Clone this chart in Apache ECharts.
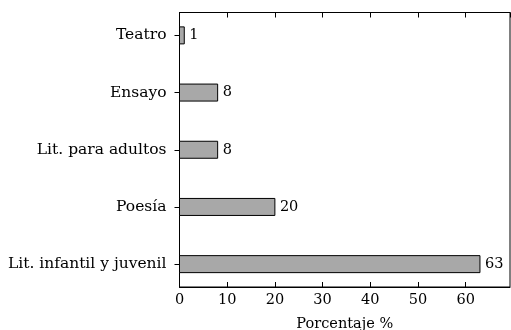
<!DOCTYPE html>
<html>
<head>
<meta charset="utf-8">
<script src="https://cdn.jsdelivr.net/npm/echarts@6/dist/echarts.min.js"></script>
<style>
  html, body { margin: 0; padding: 0; background: #fff; }
  #chart { width: 511px; height: 330px; }
</style>
</head>
<body>
<div id="chart"></div>
<script>
// categories from bottom to top
var categories = ["Lit. infantil y juvenil", "Poesía", "Lit. para adultos", "Ensayo", "Teatro"];
var values = [63, 20, 8, 8, 1];
var xTicks = [0, 10, 20, 30, 40, 50, 60];
var catPos = [0, 1, 2, 3, 4];

var font = "'DejaVu Serif', 'Liberation Serif', serif";
var barH = 17;

var chart = echarts.init(document.getElementById("chart"));

var data = values.map(function (v, i) {
  return [v, i];
});

chart.setOption({
  animation: false,
  grid: {
    left: 179.5,
    right: 1,
    top: 12.5,
    bottom: 43,
    show: true,
    borderColor: "#000",
    borderWidth: 1,
    containLabel: false,
    outerBoundsMode: "none",
  },
  xAxis: [
    {
      type: "value",
      min: 0,
      max: 69.3,
      interval: 10,
      name: "Porcentaje %",
      nameLocation: "middle",
      nameGap: 30,
      nameTextStyle: { color: "#000", fontSize: 14.5, fontFamily: font },
      axisLine: { show: true, onZero: false, lineStyle: { color: "#000", width: 1 } },
      axisTick: { show: true, inside: true, length: 5, lineStyle: { color: "#000" } },
      axisLabel: {
        color: "#000",
        fontSize: 14.5,
        fontFamily: font,
        margin: 6,
        showMaxLabel: false,
        formatter: function (v) {
          return xTicks.indexOf(v) >= 0 ? String(v) : "";
        },
      },
      splitLine: { show: false },
    },
    {
      type: "value",
      position: "top",
      min: 0,
      max: 69.3,
      interval: 10,
      axisLine: { show: true, onZero: false, lineStyle: { color: "#000", width: 1 } },
      axisTick: { show: true, inside: true, length: 5, lineStyle: { color: "#000" } },
      axisLabel: { show: false },
      splitLine: { show: false },
    },
  ],
  yAxis: {
    type: "value",
    min: -0.4,
    max: 4.4,
    axisLine: { show: true, onZero: false, lineStyle: { color: "#000", width: 1 } },
    axisTick: {
      show: true,
      inside: false,
      length: 5,
      lineStyle: { color: "#000", width: 1 },
      customValues: catPos,
    },
    axisLabel: {
      color: "#000",
      fontSize: 15.5,
      fontFamily: font,
      margin: 13,
      customValues: catPos,
      formatter: function (v) {
        return categories[Math.round(v)] || "";
      },
    },
    splitLine: { show: false },
  },
  series: [
    {
      type: "custom",
      data: data,
      encode: { x: 0, y: 1 },
      renderItem: function (params, api) {
        var v = api.value(0);
        var i = api.value(1);
        var start = api.coord([0, i]);
        var end = api.coord([v, i]);
        return {
          type: "group",
          children: [
            {
              type: "rect",
              shape: {
                x: start[0],
                y: start[1] - barH / 2,
                width: end[0] - start[0],
                height: barH,
              },
              style: { fill: "#a8a8a8", stroke: "#000", lineWidth: 1 },
            },
            {
              type: "text",
              x: end[0] + 5,
              y: end[1],
              style: {
                text: String(v),
                fill: "#000",
                font: "14.5px " + font,
                verticalAlign: "middle",
                align: "left",
              },
            },
          ],
        };
      },
    },
  ],
});
</script>
</body>
</html>
